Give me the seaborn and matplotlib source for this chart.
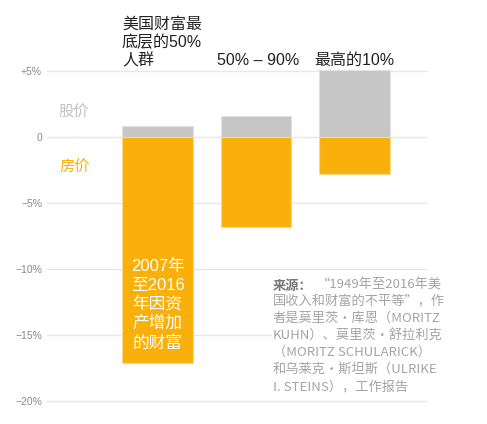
import matplotlib
matplotlib.use("Agg")
import matplotlib.pyplot as plt
import seaborn as sns
import pandas as pd

categories = ["美国财富最\n底层的50%\n人群", "50% – 90%", "最高的10%"]
stock_gain = [0.83, 1.63, 5.1]
housing_gain = [-17.1, -6.78, -2.77]
ytick_values = [5, 0, -5, -10, -15, -20]
ytick_labels = ["+5%", "0", "−5%", "−10%", "−15%", "−20%"]

sns.set_theme(style="white")
plt.rcParams['font.family'] = ['Liberation Sans', 'Noto Sans CJK SC', 'DejaVu Sans']

W, H = 487, 424
fig = plt.figure(figsize=(W / 100, H / 100), dpi=100)

def fx(px):
    return px / W

def fy(py):
    return 1 - py / H

# axes: x from 47 to 428 px, y from 65 to 407 px
ax = fig.add_axes([fx(47), fy(407), fx(428) - fx(47), fy(65) - fy(407)])

orange = "#f9b00b"
gray = "#c6c6c6"

df = pd.DataFrame({"cat": categories, "stock": stock_gain, "house": housing_gain})
sns.barplot(data=df, x="cat", y="stock", color=gray, width=0.72, ax=ax,
            saturation=1, edgecolor="#e2e2e2", linewidth=0.8, zorder=3)
sns.barplot(data=df, x="cat", y="house", color=orange, width=0.72, ax=ax,
            saturation=1, edgecolor="#fcd98a", linewidth=0.8, zorder=3)

ax.set_xlim(-1.122, 2.746)
ax.set_ylim(-20.45, 5.49)
ax.set_yticks(ytick_values)
ax.set_yticklabels(ytick_labels, color="#8a8a8a", fontsize=7.5,
                   family=['Liberation Sans Narrow', 'Liberation Sans', 'DejaVu Sans'])
ax.tick_params(axis='y', length=0, pad=3.6)
ax.set_xticks([])
ax.set_xlabel("")
ax.set_ylabel("")
for s in ax.spines.values():
    s.set_visible(False)
ax.yaxis.grid(True, color="#e8e8e8", linewidth=1, zorder=0)
ax.set_axisbelow(True)

# legend-like labels
ax.text(-0.85, 2.0, "股价", color="#c0c0c0", fontsize=11, ha="center", va="center",
        family=['Noto Sans CJK SC'])
ax.text(-0.84, -2.23, "房价", color=orange, fontsize=11, ha="center", va="center",
        family=['Noto Sans CJK SC'])

# bar annotation
ax.text(0, -12.69, "2007年\n至2016\n年因资\n产增加\n的财富", color="white", fontsize=12,
        ha="center", va="center", linespacing=1.3, zorder=5)

# column titles
title_x = [122, 217, 314]
for t, x in zip(categories, title_x):
    fig.text(fx(x), fy(65), t, fontsize=11.5, color="#222222", ha="left",
             va="baseline", linespacing=1.2)

# source text
src_color = "#a4a4a4"
fig.text(fx(273), fy(279), "来源：", fontsize=9.5, color="#777777", fontweight="bold",
         ha="left", va="top", family=['Noto Sans CJK SC'])
fig.text(fx(317), fy(279), "“1949年至2016年美", fontsize=9.5, color=src_color,
         ha="left", va="top", family=['Noto Sans CJK SC'])
src_rest = ("国收入和财富的不平等”，作\n"
            "者是莫里茨·库恩（MORITZ\n"
            "KUHN）、莫里茨·舒拉利克\n"
            "（MORITZ SCHULARICK）\n"
            "和乌莱克·斯坦斯（ULRIKE\n"
            "I. STEINS），工作报告")
fig.text(fx(273), fy(295), src_rest, fontsize=9.5, color=src_color, ha="left", va="top",
         linespacing=1.4, family=['Noto Sans CJK SC'],
         bbox=dict(facecolor="white", edgecolor="none", pad=1))

fig.savefig("out.png", dpi=100)
